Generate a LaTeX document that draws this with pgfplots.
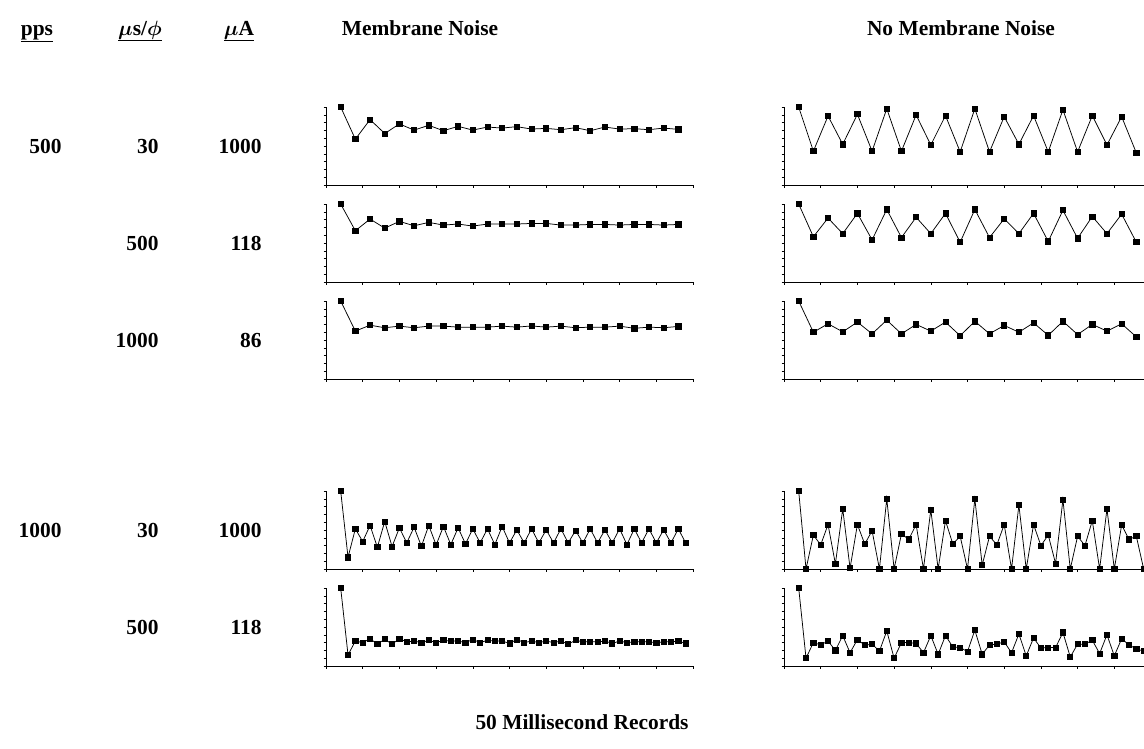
\documentclass[border=0pt]{standalone}
\usepackage{pgfplots}
\pgfplotsset{compat=1.18}
\usepackage{pgfplotstable}
\usepackage{fontspec}
\setmainfont{Liberation Serif}

% 500 pps: one response every 2 ms (normalised to the first pulse = 10)
\pgfplotstableread{
t  r1L   r1R   r2L   r2R  r3L   r3R
2  10    10    10    10   10    10
4  5.87  4.34  6.57  5.8  6.14  6.0
6  8.39  8.85  8.07  8.2  6.9   7.08
8  6.6   5.22  6.91  6.2  6.57  6.05
10 7.83  9.07  7.77  8.8  6.78  7.3
12 7.04  4.34  7.21  5.4  6.57  5.79
14 7.65  9.78  7.64  9.3  6.78  7.55
16 6.96  4.34  7.30  5.7  6.78  5.79
18 7.52  8.98  7.43  8.3  6.65  7.0
20 7.04  5.13  7.17  6.2  6.65  6.14
22 7.43  8.89  7.43  8.8  6.65  7.3
24 7.3   4.25  7.43  5.1  6.78  5.55
26 7.48  9.78  7.43  9.3  6.65  7.4
28 7.17  4.25  7.51  5.7  6.8   5.8
30 7.26  8.76  7.51  8.1  6.65  6.87
32 7.09  5.22  7.30  6.2  6.78  6.0
34 7.35  8.89  7.30  8.8  6.57  7.2
36 6.96  4.25  7.38  5.2  6.65  5.6
38 7.43  9.65  7.38  9.2  6.65  7.4
40 7.17  4.25  7.30  5.6  6.78  5.7
42 7.22  8.89  7.38  8.4  6.5   7.0
44 7.09  5.13  7.38  6.2  6.65  6.14
46 7.3   8.76  7.30  8.7  6.57  7.08
48 7.13  4.12  7.38  5.1  6.74  5.4
}\slowrate

% 1000 pps: one response every 1 ms
\pgfplotstableread{
t  r4L   r4R   r5L   r5R
2  10    10    10    10
3  1.5   0     1.42  1.0
4  5.15  4.35  3.2   3.0
5  3.52  3.1   3.0   2.7
6  5.58  5.7   3.5   3.2
7  2.79  0.65  2.8   2.0
8  6.09  7.7   3.43  3.9
9  2.88  0.1   2.8   1.7
10 5.28  5.7   3.5   3.4
11 3.35  3.2   3.1   2.66
12 5.36  4.9   3.2   2.8
13 2.92  0     3.0   1.9
14 5.58  9.0   3.3   4.5
15 3.09  0     3.0   1.0
16 5.45  4.5   3.3   3.0
17 3.13  3.8   3.2   3.0
18 5.28  5.7   3.2   2.9
19 3.22  0     3.0   1.7
20 5.15  7.6   3.4   3.9
21 3.35  0     3.0   1.5
22 5.15  6.2   3.3   3.9
23 3.13  3.2   3.2   2.45
24 5.45  4.2   3.2   2.36
25 3.35  0     2.9   1.85
26 5.02  9.0   3.4   4.6
27 3.35  0.5   3.0   1.5
28 5.15  4.2   3.2   2.7
29 3.35  3.1   3.0   2.8
30 5.02  5.7   3.2   3.1
31 3.35  0     3.0   1.7
32 5.15  8.2   3.2   4.1
33 3.35  0     2.8   1.3
34 4.94  5.7   3.3   3.6
35 3.35  3.0   3.1   2.3
36 5.15  4.35  3.1   2.36
37 3.35  0.7   3.1   2.36
38 5.02  8.9   3.2   4.3
39 3.35  0     2.9   1.16
40 5.15  4.2   3.2   2.8
41 3.13  3.0   3.0   2.8
42 5.15  6.2   3.1   3.3
43 3.35  0     3.1   1.6
44 5.15  7.7   3.1   4.0
45 3.35  0     3.0   1.3
46 5.02  5.65  3.1   3.5
47 3.35  3.8   3.1   2.7
48 5.15  4.2   3.2   2.2
49 3.35  0     2.9   1.9
}\fastrate

\pgfplotsset{
  panel/.style={
    anchor=south west, width=367bp, height=78bp, scale only axis,
    axis lines*=left, xmin=0, xmax=50, ymin=0, ymax=10,
    xtick={0,5,...,50}, ytick={0,1,...,10},
    xticklabels={}, yticklabels={},
    tick align=outside, major tick length=2.5bp,
    tick style={black, line width=0.5bp},
    axis line style={black, line width=0.9bp},
    clip=false},
  trace/.style={black, line width=0.75bp, mark=square*,
    mark size=2.6bp, mark options={solid, fill=black}},
}

\newcommand\lbl{\fontsize{21.5}{24}\selectfont\bfseries}

\begin{document}
\begin{tikzpicture}
  % column headings
  \node[anchor=base, font=\lbl] at (37bp,-35bp) {\underline{pps}};
  \node[anchor=base, font=\lbl] at (140bp,-35bp) {\underline{{\boldmath$\mu$}s/{\boldmath$\phi$}}};
  \node[anchor=base, font=\lbl] at (239bp,-35bp) {\underline{{\boldmath$\mu$}A}};
  \node[anchor=base, font=\lbl] at (420bp,-35bp) {Membrane Noise};
  \node[anchor=base, font=\lbl] at (961bp,-35bp) {No Membrane Noise};

  % stimulus parameters for each row
  \node[anchor=base east, font=\lbl] at (65bp,-153bp) {500};
  \node[anchor=base east, font=\lbl] at (162bp,-153bp) {30};
  \node[anchor=base east, font=\lbl] at (265bp,-153bp) {1000};
  \node[anchor=base east, font=\lbl] at (162bp,-250bp) {500};
  \node[anchor=base east, font=\lbl] at (265bp,-250bp) {118};
  \node[anchor=base east, font=\lbl] at (162bp,-347bp) {1000};
  \node[anchor=base east, font=\lbl] at (265bp,-347bp) {86};
  \node[anchor=base east, font=\lbl] at (65bp,-537bp) {1000};
  \node[anchor=base east, font=\lbl] at (162bp,-537bp) {30};
  \node[anchor=base east, font=\lbl] at (265bp,-537bp) {1000};
  \node[anchor=base east, font=\lbl] at (162bp,-634bp) {500};
  \node[anchor=base east, font=\lbl] at (265bp,-634bp) {118};

  % 500 pps panels
  \begin{axis}[panel, at={(326bp,-185bp)}]
    \addplot[trace] table[x=t, y=r1L]{\slowrate};
  \end{axis}
  \begin{axis}[panel, at={(784bp,-185bp)}]
    \addplot[trace] table[x=t, y=r1R]{\slowrate};
  \end{axis}
  \begin{axis}[panel, at={(326bp,-282bp)}]
    \addplot[trace] table[x=t, y=r2L]{\slowrate};
  \end{axis}
  \begin{axis}[panel, at={(784bp,-282bp)}]
    \addplot[trace] table[x=t, y=r2R]{\slowrate};
  \end{axis}
  \begin{axis}[panel, at={(326bp,-379bp)}]
    \addplot[trace] table[x=t, y=r3L]{\slowrate};
  \end{axis}
  \begin{axis}[panel, at={(784bp,-379bp)}]
    \addplot[trace] table[x=t, y=r3R]{\slowrate};
  \end{axis}

  % 1000 pps panels
  \begin{axis}[panel, at={(326bp,-569bp)}]
    \addplot[trace] table[x=t, y=r4L]{\fastrate};
  \end{axis}
  \begin{axis}[panel, at={(784bp,-569bp)}]
    \addplot[trace] table[x=t, y=r4R]{\fastrate};
  \end{axis}
  \begin{axis}[panel, at={(326bp,-666bp)}]
    \addplot[trace] table[x=t, y=r5L]{\fastrate};
  \end{axis}
  \begin{axis}[panel, at={(784bp,-666bp)}]
    \addplot[trace] table[x=t, y=r5R]{\fastrate};
  \end{axis}

  \node[anchor=base, font=\lbl] at (582bp,-729bp) {50 Millisecond Records};

  \pgfresetboundingbox
  \path[use as bounding box] (0,0) rectangle (1144bp,-749bp);
\end{tikzpicture}
\end{document}
